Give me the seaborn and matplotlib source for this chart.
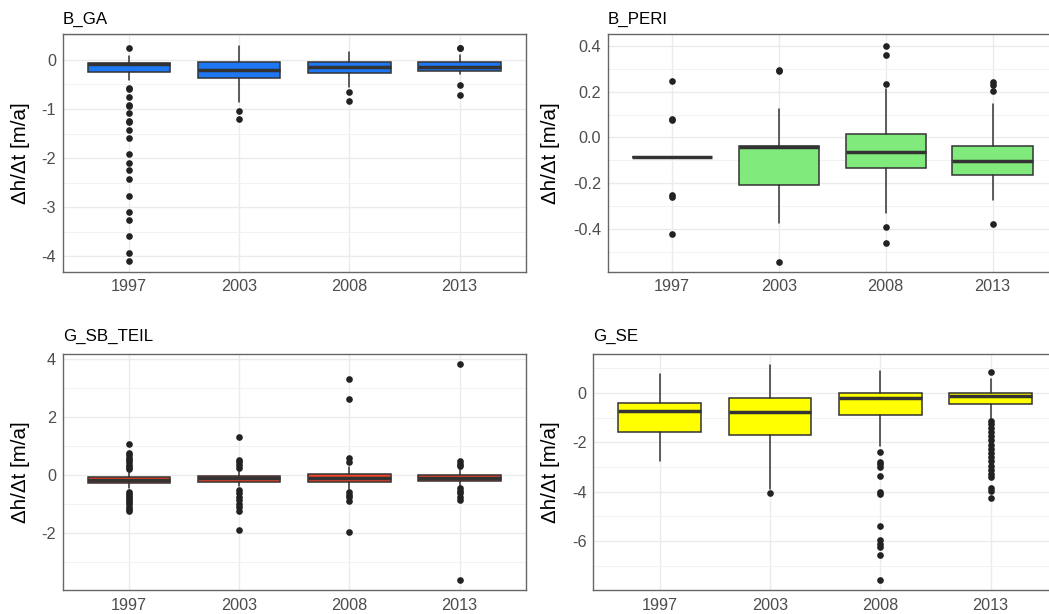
import matplotlib
matplotlib.use("Agg")
import matplotlib.pyplot as plt
from matplotlib.ticker import FixedLocator, FormatStrFormatter
import seaborn as sns
import pandas as pd

# ---------------------------------------------------------------- data
years = ["1997", "2003", "2008", "2013"]

# B_GA : box statistics per year (dh/dt in m/a)
ga_q1 = [-0.25, -0.37, -0.26, -0.22]
ga_med = [-0.09, -0.20, -0.14, -0.15]
ga_q3 = [-0.06, -0.04, -0.05, -0.04]
ga_lo = [-0.41, -0.86, -0.56, -0.28]
ga_hi = [0.07, 0.29, 0.16, 0.10]
ga_out_1997 = [0.25, -0.58, -0.60, -0.76, -0.92, -0.94, -1.08, -1.25, -1.26, -1.42,
               -1.58, -1.92, -2.09, -2.25, -2.42, -2.76, -3.09, -3.25, -3.59, -3.92, -4.09]
ga_out_2003 = [-1.04, -1.21]
ga_out_2008 = [-0.65, -0.84]
ga_out_2013 = [0.25, 0.24, -0.51, -0.71]

# B_PERI
peri_q1 = [-0.087, -0.205, -0.131, -0.163]
peri_med = [-0.087, -0.040, -0.065, -0.103]
peri_q3 = [-0.087, -0.038, 0.014, -0.038]
peri_lo = [-0.087, -0.372, -0.327, -0.273]
peri_hi = [-0.087, 0.126, 0.209, 0.145]
peri_out_1997 = [0.245, 0.08, 0.075, -0.25, -0.26, -0.42]
peri_out_2003 = [0.292, 0.29, -0.54]
peri_out_2008 = [0.40, 0.36, 0.233, -0.389, -0.459]
peri_out_2013 = [0.241, 0.228, 0.202, -0.375]

# G_SB_TEIL
sb_q1 = [-0.27, -0.23, -0.23, -0.20]
sb_med = [-0.18, -0.12, -0.12, -0.10]
sb_q3 = [-0.06, -0.03, 0.02, 0.00]
sb_lo = [-0.45, -0.40, -0.50, -0.38]
sb_hi = [0.10, 0.14, 0.28, 0.22]
sb_out_1997 = [1.07, 0.75, 0.68, 0.60, 0.52, 0.45, 0.35, 0.28, 0.22,
               -0.58, -0.65, -0.72, -0.80, -0.87, -0.95, -1.02, -1.10, -1.17, -1.25]
sb_out_2003 = [1.30, 0.51, 0.43, 0.33, 0.24,
               -0.51, -0.62, -0.76, -0.87, -0.99, -1.10, -1.24, -1.89]
sb_out_2008 = [3.30, 2.61, 0.60, 0.45, -0.59, -0.68, -0.78, -0.89, -1.97]
sb_out_2013 = [3.82, 0.48, 0.39, 0.30, -0.45, -0.55, -0.64, -0.76, -0.87, -3.62]

# G_SE
se_q1 = [-1.57, -1.71, -0.89, -0.44]
se_med = [-0.73, -0.78, -0.23, -0.11]
se_q3 = [-0.40, -0.23, 0.00, -0.01]
se_lo = [-2.75, -3.90, -2.17, -1.05]
se_hi = [0.75, 1.14, 0.90, 0.57]
se_out_1997 = []
se_out_2003 = [-4.05]
se_out_2008 = [-2.38, -2.80, -2.89, -3.00, -3.36, -4.01, -4.10, -5.39, -5.96, -6.10,
               -6.23, -6.58, -7.56]
se_out_2013 = [0.86, -1.14, -1.28, -1.41, -1.59, -1.76, -1.92, -2.10, -2.26, -2.44,
               -2.60, -2.76, -2.96, -3.11, -3.27, -3.40, -3.85, -3.98, -4.24]

# ---------------------------------------------------------------- style
sns.set_theme(style="whitegrid")
plt.rcParams["font.family"] = ["Liberation Sans", "DejaVu Sans"]
plt.rcParams["axes.unicode_minus"] = False

W, H = 1049, 614
fig = plt.figure(figsize=(W / 100, H / 100), dpi=100)
fig.patch.set_facecolor("white")

INK = "#333333"
TICK_TXT = "#4D4D4D"


def panel(box, title, title_y, q1, med, q3, lo, hi, outs, fill, ylim, major, minor,
          fmt, ylab_px):
    left, top, right, bottom = box
    ax = fig.add_axes([left / W, 1 - bottom / H, (right - left) / W, (bottom - top) / H])
    ax.set_facecolor("white")

    stats = [dict(med=m, q1=a, q3=b, whislo=l, whishi=h, fliers=[])
             for a, m, b, l, h in zip(q1, med, q3, lo, hi)]
    ax.bxp(stats, positions=range(len(years)), widths=0.75, showfliers=False,
           showcaps=False, patch_artist=True,
           boxprops=dict(facecolor=fill, edgecolor=INK, linewidth=1.1),
           whiskerprops=dict(color=INK, linewidth=1.1),
           medianprops=dict(color=INK, linewidth=2.5, solid_capstyle="butt"),
           zorder=3)

    pts = pd.DataFrame({
        "year": [y for y, o in zip(years, outs) for _ in o],
        "value": [v for o in outs for v in o],
    })
    sns.stripplot(data=pts, x="year", y="value", order=years, jitter=False,
                  color="#222222", size=4.8, linewidth=0, ax=ax, zorder=4)

    ax.set_xlim(-0.6, len(years) - 0.4)
    ax.set_ylim(*ylim)
    ax.set_xticks(range(len(years)))
    ax.set_xticklabels(years)
    ax.yaxis.set_major_locator(FixedLocator(major))
    ax.yaxis.set_minor_locator(FixedLocator(minor))
    ax.yaxis.set_major_formatter(FormatStrFormatter(fmt))

    ax.grid(True, which="major", color="#EBEBEB", linewidth=1.0, zorder=0)
    ax.grid(True, which="minor", axis="y", color="#F2F2F2", linewidth=0.7, zorder=0)
    ax.set_axisbelow(True)

    for s in ax.spines.values():
        s.set_visible(True)
        s.set_color("#666666")
        s.set_linewidth(1.0)

    ax.tick_params(axis="both", which="major", length=2.6, width=0.9, color=INK,
                   labelcolor=TICK_TXT, labelsize=11.7, pad=2.2)
    ax.tick_params(axis="y", which="minor", length=0)
    ax.tick_params(axis="x", which="major", pad=3.0)

    ax.set_xlabel("")
    ax.set_ylabel("\u0394h/\u0394t [m/a]", fontsize=14.8, color="black", va="center")
    ax.yaxis.set_label_coords((ylab_px - left) / (right - left), 0.5)

    fig.text(left / W, 1 - title_y / H, title,
             fontsize=12.2, color="black", ha="left", va="baseline")
    return ax


panel((62.7, 34.3, 525.7, 271.7), "B_GA", 23.5, ga_q1, ga_med, ga_q3, ga_lo, ga_hi,
      [ga_out_1997, ga_out_2003, ga_out_2008, ga_out_2013], "#1E78F5",
      (-4.31, 0.52), [0, -1, -2, -3, -4], [0.5, -0.5, -1.5, -2.5, -3.5], "%g", 21)

panel((607.7, 34.3, 1056.7, 271.7), "B_PERI", 23.5, peri_q1, peri_med, peri_q3,
      peri_lo, peri_hi, [peri_out_1997, peri_out_2003, peri_out_2008, peri_out_2013],
      "#80EB7C", (-0.584, 0.449), [0.4, 0.2, 0.0, -0.2, -0.4],
      [0.3, 0.1, -0.1, -0.3, -0.5], "%.1f", 551)

panel((62.7, 354.0, 525.7, 590.0), "G_SB_TEIL", 341, sb_q1, sb_med, sb_q3, sb_lo,
      sb_hi, [sb_out_1997, sb_out_2003, sb_out_2008, sb_out_2013], "#EE4529",
      (-3.98, 4.18), [4, 2, 0, -2], [3, 1, -1, -3], "%g", 21)

panel((593.4, 354.0, 1056.7, 590.0), "G_SE", 341, se_q1, se_med, se_q3, se_lo, se_hi,
      [se_out_1997, se_out_2003, se_out_2008, se_out_2013], "#FFFF00",
      (-7.98, 1.57), [0, -2, -4, -6], [1, -1, -3, -5, -7], "%g", 551)

fig.savefig("out.png", dpi=100, facecolor="white")
